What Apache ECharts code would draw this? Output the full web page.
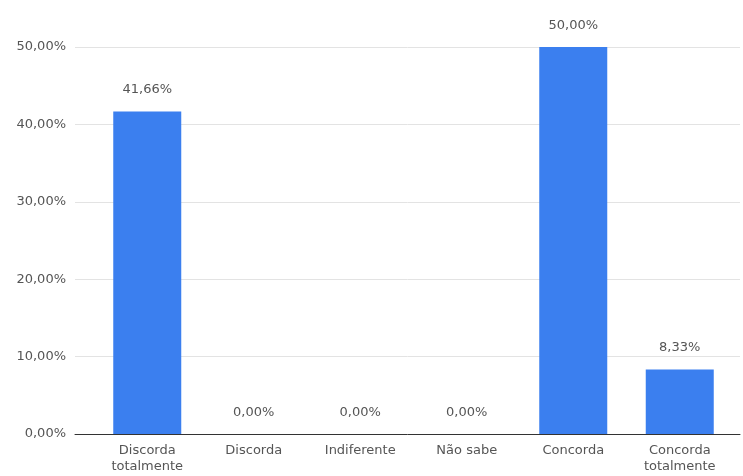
<!DOCTYPE html>
<html><head><meta charset="utf-8">
<script src="https://cdn.jsdelivr.net/npm/echarts@6/dist/echarts.min.js"></script>
<style>html,body{margin:0;padding:0;background:#fff}#c{width:743px;height:476px}</style>
</head><body><div id="c"></div>
<script>
const categories = ["Discorda\ntotalmente", "Discorda", "Indiferente", "Não sabe", "Concorda", "Concorda\ntotalmente"];
const values = [41.66, 0, 0, 0, 50.00, 8.33];
const yTicks = [0, 10, 20, 30, 40, 50];

const fmt = v => v.toFixed(2).replace('.', ',') + '%';
const chart = echarts.init(document.getElementById('c'));
const font = '"DejaVu Sans", sans-serif';
chart.setOption({
  animation: false,
  grid: [
    {left: 75, right: 3, top: 47, bottom: 42},
    {left: 94, right: 10, top: 47, bottom: 42}
  ],
  xAxis: [
    {gridIndex: 0, type: 'value', min: 0, max: 1, show: true, axisLine: {show: true, lineStyle: {color: '#333', width: 1}},
     axisTick: {show: false}, axisLabel: {show: false}, splitLine: {show: false}},
    {gridIndex: 1, type: 'category', data: categories, axisLine: {show: false}, axisTick: {show: false},
     axisLabel: {color: '#555', fontSize: 13, fontFamily: font, lineHeight: 16, margin: 9, interval: 0}}
  ],
  yAxis: [
    {gridIndex: 0, type: 'value', min: yTicks[0], max: yTicks[yTicks.length-1], interval: 10,
     axisLine: {show: false}, axisTick: {show: false},
     axisLabel: {color: '#555', fontSize: 13, fontFamily: font, margin: 9, formatter: v => fmt(v)},
     splitLine: {lineStyle: {color: '#e3e3e3', width: 1}}},
    {gridIndex: 1, type: 'value', min: 0, max: 50, show: false, splitLine: {show: false}}
  ],
  series: [{
    type: 'bar', xAxisIndex: 1, yAxisIndex: 1, data: values, barWidth: 68,
    itemStyle: {color: '#3b7fef'},
    label: {show: true, position: 'top', distance: 15, color: '#555', fontSize: 13, fontFamily: font,
      formatter: p => fmt(p.value)}
  }]
});
</script></body></html>
